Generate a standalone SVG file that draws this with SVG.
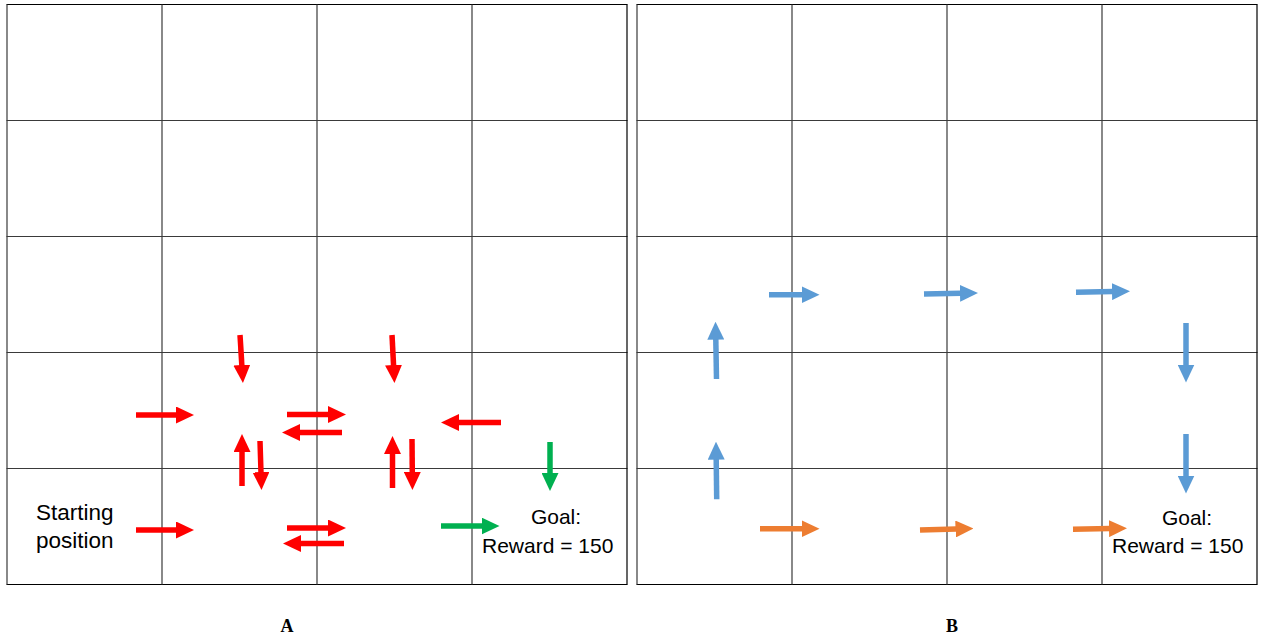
<svg xmlns="http://www.w3.org/2000/svg" width="1265" height="643" viewBox="0 0 1265 643">
  <style>
    .grid line { stroke: #3a3a3a; stroke-width: 1.2; }
    .grid .outer { stroke: #000; }
    .lbl { font-family: "Liberation Sans", Arial, sans-serif; font-size: 21px; fill: #000; }
    .big { font-size: 22.5px; }
    .cap { font-family: "Liberation Serif", "Times New Roman", serif; font-size: 18px; font-weight: bold; fill: #000; text-anchor: middle; }
    .r { stroke: #FF0000; }
    .g { stroke: #00B050; }
    .b { stroke: #5B9BD5; }
    .o { stroke: #ED7D31; }
    #connectors line { stroke-width: 5.5; fill: none; }
    .r { marker-end: url(#hr); }
    .g { marker-end: url(#hg); }
    .b { marker-end: url(#hb); }
    .o { marker-end: url(#ho); }
  </style>
  <defs>
    <marker id="hr" markerUnits="userSpaceOnUse" markerWidth="18" markerHeight="17" viewBox="0 0 18 17" refX="1" refY="8.5" orient="auto"><path d="M0,0 L18,8.5 L0,17 z" fill="#FF0000"/></marker>
    <marker id="hg" markerUnits="userSpaceOnUse" markerWidth="18" markerHeight="17" viewBox="0 0 18 17" refX="1" refY="8.5" orient="auto"><path d="M0,0 L18,8.5 L0,17 z" fill="#00B050"/></marker>
    <marker id="hb" markerUnits="userSpaceOnUse" markerWidth="18" markerHeight="17" viewBox="0 0 18 17" refX="1" refY="8.5" orient="auto"><path d="M0,0 L18,8.5 L0,17 z" fill="#5B9BD5"/></marker>
    <marker id="ho" markerUnits="userSpaceOnUse" markerWidth="18" markerHeight="17" viewBox="0 0 18 17" refX="1" refY="8.5" orient="auto"><path d="M0,0 L18,8.5 L0,17 z" fill="#ED7D31"/></marker>
  </defs>
  <rect width="1265" height="643" fill="#fff"/>

  <g id="gridA" class="grid">
    <line x1="6.5" y1="4.5" x2="627.5" y2="4.5" class="outer"/>
    <line x1="6.5" y1="120.5" x2="627.5" y2="120.5"/>
    <line x1="6.5" y1="236.5" x2="627.5" y2="236.5"/>
    <line x1="6.5" y1="352.5" x2="627.5" y2="352.5"/>
    <line x1="6.5" y1="468.5" x2="627.5" y2="468.5"/>
    <line x1="6.5" y1="584.5" x2="627.5" y2="584.5" class="outer"/>
    <line x1="7" y1="4.5" x2="7" y2="584.5"/>
    <line x1="162" y1="4.5" x2="162" y2="584.5"/>
    <line x1="317" y1="4.5" x2="317" y2="584.5"/>
    <line x1="472" y1="4.5" x2="472" y2="584.5"/>
    <line x1="627" y1="4.5" x2="627" y2="584.5" class="outer"/>
  </g>
  <g id="gridB" class="grid">
    <line x1="636.5" y1="4.5" x2="1257.5" y2="4.5" class="outer"/>
    <line x1="636.5" y1="120.5" x2="1257.5" y2="120.5"/>
    <line x1="636.5" y1="236.5" x2="1257.5" y2="236.5"/>
    <line x1="636.5" y1="352.5" x2="1257.5" y2="352.5"/>
    <line x1="636.5" y1="468.5" x2="1257.5" y2="468.5"/>
    <line x1="636.5" y1="584.5" x2="1257.5" y2="584.5" class="outer"/>
    <line x1="637" y1="4.5" x2="637" y2="584.5"/>
    <line x1="792" y1="4.5" x2="792" y2="584.5"/>
    <line x1="947" y1="4.5" x2="947" y2="584.5"/>
    <line x1="1102" y1="4.5" x2="1102" y2="584.5"/>
    <line x1="1257" y1="4.5" x2="1257" y2="584.5" class="outer"/>
  </g>

  <g id="connectors">
    <line class="r" x1="240" y1="335" x2="241.9" y2="366"/>
    <line class="r" x1="136" y1="415" x2="177" y2="415"/>
    <line class="r" x1="287" y1="414.5" x2="329" y2="414.5"/>
    <line class="r" x1="342" y1="432.5" x2="299" y2="432.5"/>
    <line class="r" x1="242" y1="486" x2="242" y2="451"/>
    <line class="r" x1="260" y1="441" x2="261" y2="473"/>
    <line class="r" x1="392" y1="335" x2="393.6" y2="366"/>
    <line class="r" x1="501" y1="422.5" x2="458" y2="422.5"/>
    <line class="r" x1="392.5" y1="488" x2="392.5" y2="453"/>
    <line class="r" x1="412" y1="439" x2="412.3" y2="473"/>
    <line class="r" x1="136" y1="530" x2="177" y2="530"/>
    <line class="r" x1="287" y1="528" x2="329" y2="528"/>
    <line class="r" x1="344" y1="543.5" x2="300" y2="543.5"/>
    <line class="g" x1="550" y1="442" x2="550" y2="474"/>
    <line class="g" x1="441" y1="526" x2="482.5" y2="526"/>
    <line class="b" x1="716.5" y1="379" x2="715.8" y2="338.7"/>
    <line class="b" x1="769" y1="294.7" x2="802.5" y2="294.7"/>
    <line class="b" x1="924" y1="294" x2="961" y2="293.3"/>
    <line class="b" x1="1076" y1="292.3" x2="1113" y2="291.6"/>
    <line class="b" x1="1186" y1="323" x2="1186" y2="365.5"/>
    <line class="b" x1="1186" y1="434" x2="1186" y2="476.5"/>
    <line class="b" x1="716.7" y1="499.3" x2="716.2" y2="458.7"/>
    <line class="o" x1="760" y1="528.7" x2="802.5" y2="528.7"/>
    <line class="o" x1="920" y1="530" x2="956.5" y2="529"/>
    <line class="o" x1="1073" y1="529.3" x2="1110" y2="528.6"/>
  </g>

  <g id="start">
    <text class="lbl big" x="36" y="520">Starting</text>
    <text class="lbl big" x="36" y="548">position</text>
  </g>
  <g id="goalA">
    <text class="lbl" x="556" y="524" text-anchor="middle">Goal:</text>
    <text class="lbl" x="482" y="553">Reward = 150</text>
  </g>
  <g id="goalB">
    <text class="lbl" x="1187" y="525" text-anchor="middle">Goal:</text>
    <text class="lbl" x="1112" y="553">Reward = 150</text>
  </g>
  <g id="captions">
    <text class="cap" x="287" y="632">A</text>
    <text class="cap" x="952" y="632">B</text>
  </g>
</svg>
